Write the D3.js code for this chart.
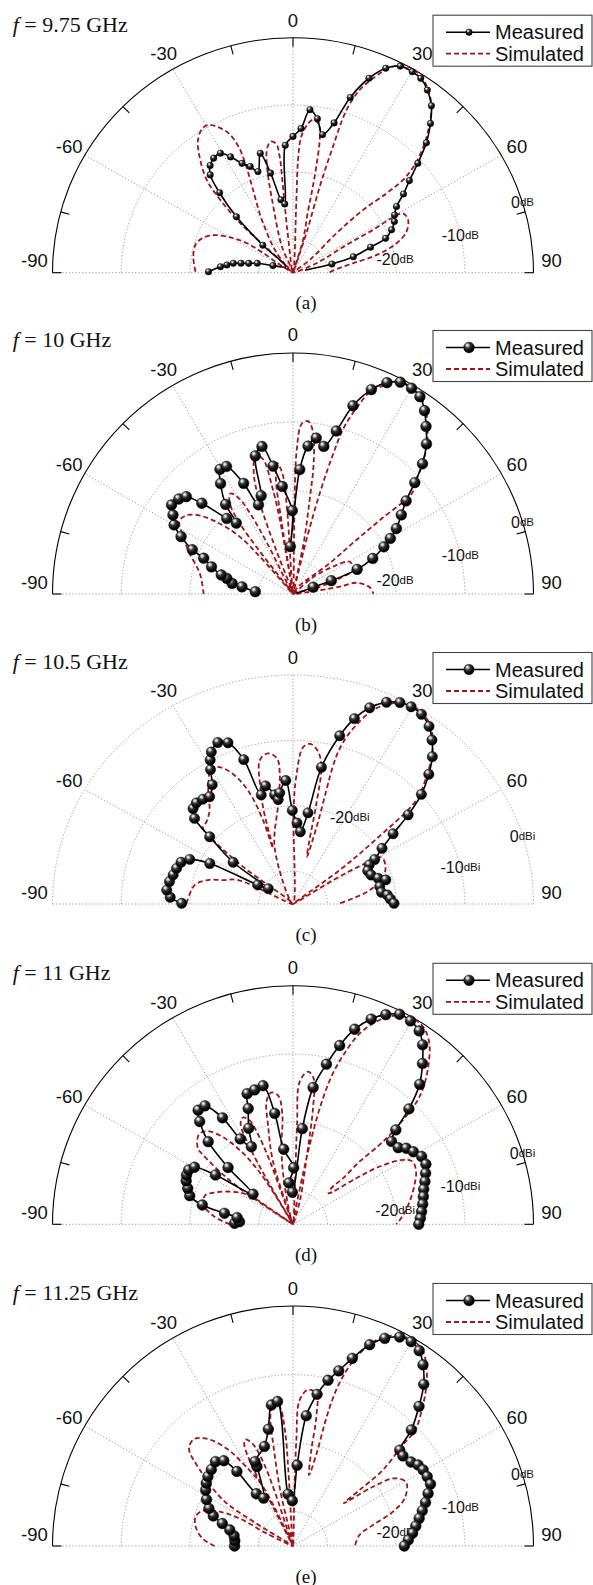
<!DOCTYPE html>
<html><head><meta charset="utf-8">
<script src="https://cdn.jsdelivr.net/npm/d3@7"></script>
<style>body{margin:0;background:#fff}svg{display:block}</style>
</head><body>
<svg id="chart" width="593" height="1585"></svg>
<script>
// ---------- data ----------
const frequencies = ["9.75", "10", "10.5", "11", "11.25"];
const captions = ["(a)", "(b)", "(c)", "(d)", "(e)"];
const units = ["dB", "dB", "dBi", "dBi", "dB"];
const angleTicks = [-90, -60, -30, 0, 30, 60, 90];
const ringLevels = [-30, -20, -10];
const radialLabels = [-20, -10, 0];
const seriesNames = ["Measured", "Simulated"];

// [angle (deg), gain (dB)]
const measuredA = [[-89.3,-22.7],[-85.2,-24.4],[-83.2,-25.3],[-80.8,-26.2],[-79.5,-27.3],[-77.8,-28.4],[-75.0,-29.6],[-70.0,-31.9],[-50.0,-33.6],[-47.0,-29.0],[-44.7,-23.3],[-41.9,-19.0],[-39.6,-16.1],[-37.1,-15.0],[-34.1,-14.4],[-30.7,-14.3],[-27.8,-15.5],[-24.5,-17.1],[-21.5,-18.0],[-18.7,-19.1],[-15.0,-16.6],[-12.4,-19.8],[-9.2,-24.0],[-6.7,-24.7],[-3.4,-16.0],[0,-14.7],[3.1,-13.5],[5.8,-10.6],[8.8,-11.8],[11.8,-14.0],[15.0,-11.9],[17.7,-7.6],[20.9,-4.0],[23.9,-1.7],[26.9,-0.5],[30.1,-0.4],[32.7,-0.6],[35.7,-1.5],[39.0,-3.0],[42.0,-5.1],[45.1,-7.6],[48.1,-10.6],[51.0,-13.2],[53.9,-15.1],[56.8,-17.0],[59.8,-17.9],[62.7,-18.4],[66.0,-19.3],[69.2,-20.6],[71.4,-23.1],[74.9,-25.9],[77.2,-29.2],[78,-33.2]];
const simulatedA = [[-89.4,-20.8],[-80.7,-20.3],[-73.8,-20.2],[-68.9,-20.8],[-64.1,-22.2],[-60,-24.5],[-56.8,-27.0],[-56,-29.9],[-58,-32.8],[-55,-35],[-46,-29.8],[-46.2,-24.4],[-44.3,-19.9],[-42.3,-16.4],[-38.2,-13.0],[-35,-10.9],[-31.6,-9.8],[-29.2,-9.8],[-27,-10.6],[-24.3,-12.2],[-22.9,-14.6],[-23.1,-17.3],[-24.9,-20.9],[-29.9,-25.9],[-39,-31.3],[-30,-35],[-22.5,-30.8],[-15.7,-23.8],[-13.5,-18.8],[-11.5,-16.1],[-9.3,-15.2],[-7.2,-15.7],[-6.4,-17.6],[-6.5,-22.1],[-7.5,-29.1],[0,-35],[2.6,-24.2],[2.5,-18.2],[3.4,-14.7],[5.6,-12.7],[7.5,-12.0],[9.8,-12.7],[11.1,-14.8],[12.1,-18.9],[12.8,-22.4],[13.4,-25.7],[16.7,-29.9],[15,-35],[18.3,-28.8],[16.9,-21.6],[17.2,-15.4],[17.8,-9.6],[19.6,-6.1],[21.9,-3.8],[24.2,-1.8],[26.7,-0.4],[29.5,0],[32.6,-0.3],[35.8,-1.4],[39.2,-3.1],[42.3,-5.6],[44.8,-7.8],[47.8,-11.1],[49.2,-13.9],[49,-17.0],[47.5,-21.2],[47.1,-26.4],[52,-31.9],[60,-35],[67.6,-31.3],[62,-26.2],[61.3,-21.7],[60.5,-18.3],[61.1,-16.7],[64.9,-16.5],[69.7,-17.4],[73.8,-19.3],[77.8,-22.6],[80.9,-26.2],[87,-29.2],[90,-29.7]];

const measuredB = [[-86.5,-29.5],[-82,-27.5],[-80.1,-26.0],[-76.7,-25.1],[-75.2,-24.2],[-71.6,-22.5],[-68.2,-21.0],[-66.3,-19.0],[-62.9,-16.7],[-59.9,-15.0],[-56.7,-14.1],[-53.8,-13.1],[-50.3,-13.4],[-47.7,-14.0],[-45.2,-16.3],[-41.3,-20.4],[-38.7,-21.8],[-37,-18.7],[-33.3,-15.8],[-30.4,-14.0],[-27.6,-14.1],[-24.1,-17.4],[-21.2,-21.1],[-18,-20.0],[-15.3,-14.2],[-11.9,-13.1],[-8.9,-16.2],[-5.7,-19.3],[-0.5,-22.9],[-3.2,-28.1],[3.1,-16.9],[5.8,-13.4],[8.5,-12.1],[11.8,-13.1],[14.9,-10.5],[17.7,-6.3],[21,-3.2],[24,-1.4],[26.9,-0.5],[30,-0.5],[32.8,-0.9],[35.7,-2.2],[38.5,-3.9],[41.7,-5.8],[44.9,-8.3],[47.6,-11.0],[50.6,-13.7],[53.9,-15.5],[57.7,-17.2],[60.3,-18.7],[62.6,-20.1],[66,-22.3],[69,-25.0],[70.9,-29.1],[71.4,-31.9],[78,-34.5]];
const simulatedB = [[-90,-22.0],[-77.5,-21.1],[-68.5,-18.8],[-62,-16.8],[-57.5,-15.4],[-54.2,-15.6],[-50.8,-16.8],[-46.8,-19.7],[-43,-23.6],[-41.5,-28.4],[-40,-35],[-38,-27],[-37,-22],[-35,-19],[-32,-17.8],[-29.5,-19],[-28,-22],[-27,-27],[-25,-35],[-21,-28],[-20,-21],[-18,-16.5],[-15,-14.1],[-12.5,-15],[-11,-19.2],[-10,-24.5],[-10,-35],[-9,-24.5],[-8.5,-18.2],[-7,-15.8],[-5,-17.5],[-4,-22.8],[0,-35],[1,-24.5],[1.5,-14],[3,-10.2],[5,-9.8],[7,-11.2],[9,-15.8],[10,-21],[11.7,-27],[12,-35],[14,-26.3],[15,-19.3],[16,-14],[17,-9.8],[19,-6.3],[21,-3.5],[24,-1.8],[27,-0.5],[30,-0.4],[33,-0.9],[36,-2.1],[39,-3.9],[42,-5.9],[45,-8.4],[48,-11.2],[49.8,-12.3],[49.7,-18],[49.6,-22.9],[50,-28],[36,-33.7],[45,-35],[50,-31.2],[55.7,-28],[60.4,-25.5],[68,-25.6],[71.5,-27.8],[74.8,-31],[80,-35],[81.2,-28.1],[79.9,-25.7],[85,-23.8],[90,-23.3]];

const measuredC = [[-89.6,-18.8],[-86.7,-17.1],[-83.4,-16.5],[-79.2,-16.7],[-75.7,-17.0],[-72.2,-17.2],[-68.6,-17.5],[-65.6,-18.5],[-62.9,-21.4],[-60.4,-29.1],[-56.8,-30.7],[-53.8,-24.2],[-49.7,-19.1],[-47.6,-15.6],[-44.9,-14.4],[-42.3,-14.1],[-39.3,-14.3],[-36.5,-14.6],[-32.8,-13.3],[-30.3,-11.2],[-28.7,-9.9],[-27.1,-8.9],[-23.9,-8.0],[-21,-8.6],[-18,-11.8],[-15.5,-17.7],[-12.5,-16.5],[-9.1,-18.1],[-7.7,-18.9],[-6.5,-17.9],[-3.2,-16.1],[-0.4,-20.7],[2.7,-22.6],[5.5,-23.9],[8.9,-20.9],[11.2,-13.7],[14.8,-8.4],[17.5,-5.3],[20.4,-3.0],[23.8,-1.3],[26.8,-0.5],[29.7,-0.3],[32.8,-0.5],[36.1,-1.4],[38.9,-2.8],[42,-4.7],[44.9,-7.0],[48.1,-9.9],[50.9,-13.4],[53.6,-16.9],[56.7,-19.5],[60.2,-21.3],[61.7,-22.4],[65,-23.0],[68.7,-22.8],[72.4,-22.0],[74.7,-21.0],[78.1,-22.1],[82.1,-22.0],[84.3,-21.2],[86.9,-20.8],[89.6,-20.3]];
const simulatedC = [[-89.6,-19.5],[-78.6,-20.4],[-73.5,-22.1],[-70.2,-24.2],[-65.4,-26.2],[-60,-35],[-52,-26],[-50,-20],[-48.5,-17.5],[-45,-17.2],[-40.2,-16.2],[-36.2,-14.1],[-30.5,-11.2],[-29.7,-11.0],[-26.5,-11.7],[-23,-13.9],[-20.4,-16.9],[-18.8,-21.4],[-18.9,-26],[-16.6,-20],[-14.9,-16.5],[-12.4,-12.5],[-9,-11.7],[-6,-12.6],[-5.5,-14.9],[-8,-19.5],[-17.4,-26.1],[-5,-35],[0.3,-20.6],[1.4,-15.5],[3.5,-11.0],[5.9,-10.4],[8.9,-11.4],[11.1,-13.6],[12.6,-19.7],[13.8,-25],[15.7,-27.5],[16.2,-22],[15.6,-17],[15.4,-13.5],[15.8,-10.8],[17,-8.3],[18.8,-5.9],[21.4,-3.2],[24.5,-1.4],[27.5,-0.4],[30.5,-0.1],[33.5,-0.4],[36.5,-1.3],[39.5,-3.0],[42.5,-5.3],[45.5,-8.0],[48.5,-11.0],[50.8,-19.9],[52.7,-26.5],[55,-35],[58,-28],[59,-24],[60,-21.6],[61,-20.3],[66.2,-20.3],[72.3,-21.2],[79.2,-23.6],[84.3,-26.2],[89.1,-28.2]];

const measuredD = [[-89,-26.5],[-87.2,-27.2],[-83.1,-26.8],[-80.8,-24.9],[-77.9,-21.5],[-74.4,-19.4],[-71,-18.8],[-67.7,-18.2],[-65,-17.9],[-62.3,-17.85],[-59.7,-18.4],[-57.3,-21.6],[-52.8,-27.7],[-48.6,-22.4],[-45.5,-17.7],[-42,-14.7],[-39.5,-13.3],[-36.4,-13.4],[-33.3,-16.3],[-31.5,-20.3],[-28,-22.1],[-24.6,-19.5],[-21,-16.8],[-19.2,-14.7],[-15.8,-14.5],[-12.1,-14.2],[-9.3,-18.5],[-7,-23.9],[0.7,-26.7],[-5.6,-28.9],[-1.2,-30.3],[5.5,-20.9],[8.3,-14.7],[11.7,-11.0],[14.5,-7.9],[17.4,-5.0],[20.7,-2.8],[23.7,-1.4],[26.7,-0.5],[29.8,-0.6],[32.9,-1.2],[35.6,-2.6],[38.6,-4.8],[41.9,-7.4],[44.9,-11.1],[47.2,-14.6],[49.7,-16.2],[53.7,-16.0],[55.9,-15.1],[58.7,-14.5],[62,-13.8],[65.5,-13.75],[68.8,-14.3],[71.9,-14.8],[74.9,-15.3],[77.9,-15.6],[81.1,-15.9],[84.3,-16.2],[87.3,-16.45],[90,-16.7]];
const simulatedD = [[-90,-25.8],[-84.4,-23.5],[-77.7,-21.7],[-71.9,-21.5],[-67.2,-22.9],[-61.2,-25.1],[-56.3,-27.4],[-55.4,-30.9],[-55,-35],[-55.8,-25.6],[-54,-21.8],[-52.1,-18.4],[-51.1,-17.2],[-46.2,-16.0],[-42.6,-16.4],[-38.2,-18.9],[-34.3,-23.0],[-31.8,-27.6],[-30,-35],[-30,-27],[-29,-22],[-27.5,-18.5],[-25,-17.7],[-22.5,-18.5],[-21,-21],[-20,-25],[-20,-30],[-20,-35],[-17.5,-25.3],[-14,-20],[-12,-16.5],[-9.2,-15.4],[-6.5,-16],[-5.5,-18.9],[-8.6,-23.7],[-12,-29],[0,-35],[4,-32.6],[2.3,-20.4],[2.7,-14],[5.6,-12.5],[8,-13.4],[9.7,-17.7],[11,-23.6],[16.3,-31.5],[10,-35],[11,-28],[12,-22],[13,-17],[14.5,-12.5],[16.5,-9],[19,-5.5],[22,-3],[25,-1.3],[28,-0.3],[31,-0.1],[34,-0.6],[37,-2],[40,-4.3],[43,-7],[45,-9.5],[46.9,-15.1],[47.2,-17.85],[46.5,-21.6],[47.1,-25.1],[46.5,-27.3],[48.7,-28.1],[53.7,-23.6],[56.1,-19.8],[59.4,-16.4],[62.2,-15.3],[66.7,-15.5],[71.9,-16.4],[78.9,-17.7],[85.1,-18.9],[90,-19.95]];

const measuredE = [[-90,-26.5],[-84.8,-26.5],[-80.2,-26.3],[-75.7,-25.5],[-72.3,-24.2],[-69.3,-22.6],[-65.9,-21.6],[-61.7,-20.7],[-57.3,-19.9],[-54,-19.4],[-50.7,-19.0],[-46.8,-18.7],[-42.5,-18.3],[-39,-19.0],[-36.9,-21.4],[-35,-25.7],[-31.5,-26.8],[-24.4,-22.3],[-24.2,-21.5],[-16,-19.9],[-11.9,-17.6],[-8.7,-14.2],[-6.1,-13.8],[-5.5,-27.4],[-0.9,-28.4],[2.9,-23.2],[5.8,-15.9],[9,-12.6],[11.9,-10.3],[14.6,-8.6],[17.5,-6.3],[20.8,-3.6],[23.8,-1.9],[27,-0.8],[30,-0.6],[32.8,-1.1],[35.6,-2.5],[38.9,-4.7],[42,-7.6],[45.5,-10.85],[48,-14.1],[50.6,-14.3],[54.5,-13.9],[57,-13.3],[59.6,-13.05],[62.6,-13.0],[65.7,-13.05],[68.7,-13.9],[71.8,-14.7],[74.7,-15.5],[77.6,-16.2],[80.8,-16.9],[83.9,-17.5],[87,-18.2],[90,-18.8]];
const simulatedE = [[-90,-23.6],[-85.7,-21.9],[-79.1,-20.6],[-73.2,-20.2],[-68.5,-20.9],[-64.9,-23.2],[-62.6,-26.25],[-64.5,-30.7],[-60,-35],[-58.3,-28.7],[-56.6,-22.8],[-50.7,-17.5],[-46.7,-14.2],[-42.5,-13.8],[-38.4,-15.1],[-34.2,-17.8],[-31.2,-20.9],[-26.8,-25.3],[-30,-35],[-27,-27],[-27,-21.5],[-25.5,-18.5],[-24,-18],[-21.5,-19],[-19.5,-22],[-18.5,-27],[-15,-35],[-13,-27],[-11,-20],[-10,-16],[-8,-13.8],[-5.5,-14.5],[-4,-18],[-3.5,-24],[0,-35],[1.5,-28],[1.8,-19.5],[2.6,-13.7],[5.5,-12.1],[8.7,-12.5],[10.2,-15.8],[10.8,-20.75],[12.7,-24.4],[14.3,-21],[14.5,-16.5],[15,-13],[16,-10],[17.6,-7.2],[19.8,-4.5],[22.5,-2.3],[25.5,-1.0],[28.5,-0.4],[30.2,-0.25],[33.7,-0.9],[37.2,-2.8],[40.3,-5.1],[43.5,-7.8],[46.5,-10.5],[47.3,-13.3],[49.7,-17.85],[49.9,-22.3],[49.9,-25.3],[53.4,-20.5],[56.3,-17.2],[60.7,-16.1],[66.8,-17.3],[71,-19.6],[75.3,-23],[80.6,-25.2],[90,-26.0]];

const measuredSets = [measuredA, measuredB, measuredC, measuredD, measuredE];
const simulatedSets = [simulatedA, simulatedB, simulatedC, simulatedD, simulatedE];

// ---------- layout ----------
const cx = 293, Rx = 240.5;
const layout = [
  {cy: 272.7, Ry: 235, marker: 3.3, solidRim: true, labelAngles: [82, 77, 72.6], labelR: [1, 1, 1]},
  {cy: 594, Ry: 241, marker: 5.4, solidRim: true, labelAngles: [82, 77, 72.6], labelR: [1, 1, 1]},
  {cy: 904, Ry: 229, marker: 5.2, solidRim: false, labelAngles: [32, 77, 72.6], labelR: [1.04, 1, 1]},
  {cy: 1224.3, Ry: 238.5, marker: 5.4, solidRim: true, labelAngles: [82, 77, 72.6], labelR: [1, 1, 1]},
  {cy: 1546, Ry: 240, marker: 5.4, solidRim: true, labelAngles: [82, 77, 72.6], labelR: [1, 1, 1]}
];
const SANS = "'Liberation Sans', Arial, Helvetica, sans-serif";
const SERIF = "'Liberation Serif', 'Times New Roman', Times, serif";
const SIM_COLOR = "#9e1519";
const GRID_COLOR = "#959595";
const DASH = "5,3";

const svg = d3.select("#chart");
svg.append("rect").attr("width", 593).attr("height", 1585).attr("fill", "#fff");
const defs = svg.append("defs");
const grad = defs.append("radialGradient").attr("id", "sphere")
  .attr("cx", "40%").attr("cy", "34%").attr("r", "66%").attr("fx", "34%").attr("fy", "28%");
[[0, "#ffffff"], [0.14, "#d0d0d0"], [0.38, "#3a3a3a"], [0.75, "#070707"], [1, "#000"]]
  .forEach(([o, c]) => grad.append("stop").attr("offset", o).attr("stop-color", c));

const rNorm = d3.scaleLinear().domain([-35, 0]).range([0, 1]);
const angScale = d3.scaleLinear().domain([-90, 90]).range([-Math.PI / 2, Math.PI / 2]);

layout.forEach((L, i) => {
  const g = svg.append("g");
  const X = (a, rn) => cx + Rx * rn * Math.sin(angScale(a));
  const Y = (a, rn) => L.cy - L.Ry * rn * Math.cos(angScale(a));
  const top = L.cy - L.Ry;

  // grid rings
  const rings = L.solidRim ? ringLevels : ringLevels.concat([0]);
  rings.forEach(db => {
    const rn = rNorm(db);
    g.append("path")
      .attr("d", `M${cx - Rx * rn},${L.cy} A${Rx * rn},${L.Ry * rn} 0 0 1 ${cx + Rx * rn},${L.cy}`)
      .attr("fill", "none").attr("stroke", GRID_COLOR).attr("stroke-width", 0.9)
      .attr("stroke-dasharray", "1.3,2");
  });
  // spokes
  angleTicks.filter(a => Math.abs(a) < 90).forEach(a => {
    g.append("line").attr("x1", cx).attr("y1", L.cy).attr("x2", X(a, 1)).attr("y2", Y(a, 1))
      .attr("stroke", GRID_COLOR).attr("stroke-width", 0.9).attr("stroke-dasharray", "1.3,2");
  });
  g.append("line").attr("x1", X(-90, 1)).attr("y1", L.cy).attr("x2", X(90, 1)).attr("y2", L.cy)
    .attr("stroke", GRID_COLOR).attr("stroke-width", 0.9).attr("stroke-dasharray", "1.3,2");

  // solid rim with ticks
  if (L.solidRim) {
    g.append("path")
      .attr("d", `M${cx - Rx},${L.cy} A${Rx},${L.Ry} 0 0 1 ${cx + Rx},${L.cy}`)
      .attr("fill", "none").attr("stroke", "#000").attr("stroke-width", 1.1);
    [-90, -75, -45, -15, 0, 15, 45, 75, 90].forEach(a => {
      g.append("line").attr("x1", X(a, 1)).attr("y1", Y(a, 1))
        .attr("x2", X(a, 1 - 9 / Rx)).attr("y2", Y(a, 1 - 9 / L.Ry))
        .attr("stroke", "#000").attr("stroke-width", 1.1);
    });
  }

  // angle labels
  angleTicks.forEach(a => {
    g.append("text").attr("x", X(a, 1.075)).attr("y", Y(a, 1.075) - (Math.abs(a) === 90 ? 12 : 0))
      .attr("text-anchor", "middle").attr("dominant-baseline", "central")
      .attr("font-family", SANS).attr("font-size", 18.5).attr("fill", "#111").text(a);
  });

  // radial labels
  radialLabels.forEach((db, k) => {
    const a = L.labelAngles[k], rn = rNorm(db) * L.labelR[k];
    const t = g.append("text").attr("x", X(a, rn)).attr("y", Y(a, rn))
      .attr("text-anchor", "middle").attr("dominant-baseline", "central")
      .attr("font-family", SANS).attr("fill", "#111");
    t.append("tspan").attr("font-size", 16).text(db);
    t.append("tspan").attr("font-size", 11.5).text(units[i]);
  });

  // simulated
  const line = d3.line()
    .x(d => X(d[0], rNorm(d[1]))).y(d => Y(d[0], rNorm(d[1])))
    .curve(d3.curveCatmullRom.alpha(0.5));
  g.append("path").attr("d", line(simulatedSets[i]))
    .attr("fill", "none").attr("stroke", SIM_COLOR).attr("stroke-width", 1.8)
    .attr("stroke-dasharray", DASH);

  // measured
  g.append("path").attr("d", line(measuredSets[i]))
    .attr("fill", "none").attr("stroke", "#000").attr("stroke-width", 1.6);
  g.selectAll("circle.m").data(measuredSets[i].filter(d => d[1] > -33)).join("circle")
    .attr("class", "m")
    .attr("cx", d => X(d[0], rNorm(d[1]))).attr("cy", d => Y(d[0], rNorm(d[1])))
    .attr("r", L.marker).attr("fill", "url(#sphere)").attr("stroke", "#000").attr("stroke-width", 0.4);

  // title
  const title = g.append("text").attr("x", 12.7).attr("y", top - 6)
    .attr("font-family", SERIF).attr("font-size", 22).attr("fill", "#111");
  title.append("tspan").attr("font-style", "italic").text("f");
  title.append("tspan").text(" = " + frequencies[i] + " GHz");

  // caption
  g.append("text").attr("x", 306).attr("y", L.cy + 30).attr("text-anchor", "middle")
    .attr("dominant-baseline", "central").attr("font-family", SERIF).attr("font-size", 19)
    .attr("fill", "#111").text(captions[i]);

  // legend
  const ly = top - 22.5;
  const lg = g.append("g");
  lg.append("rect").attr("x", 433).attr("y", ly).attr("width", 159).attr("height", 51)
    .attr("fill", "#fff").attr("stroke", "#444").attr("stroke-width", 1.1);
  const rows = [ly + 17, ly + 38.5];
  lg.append("line").attr("x1", 446).attr("x2", 490).attr("y1", rows[0]).attr("y2", rows[0])
    .attr("stroke", "#000").attr("stroke-width", 1.6);
  lg.append("circle").attr("cx", 469).attr("cy", rows[0]).attr("r", L.marker)
    .attr("fill", "url(#sphere)").attr("stroke", "#000").attr("stroke-width", 0.4);
  lg.append("line").attr("x1", 446).attr("x2", 490).attr("y1", rows[1]).attr("y2", rows[1])
    .attr("stroke", SIM_COLOR).attr("stroke-width", 1.8).attr("stroke-dasharray", DASH);
  seriesNames.forEach((s, k) => {
    lg.append("text").attr("x", 495).attr("y", rows[k]).attr("dominant-baseline", "central")
      .attr("font-family", SANS).attr("font-size", 20).attr("fill", "#111").text(s);
  });
});
</script>
</body></html>
